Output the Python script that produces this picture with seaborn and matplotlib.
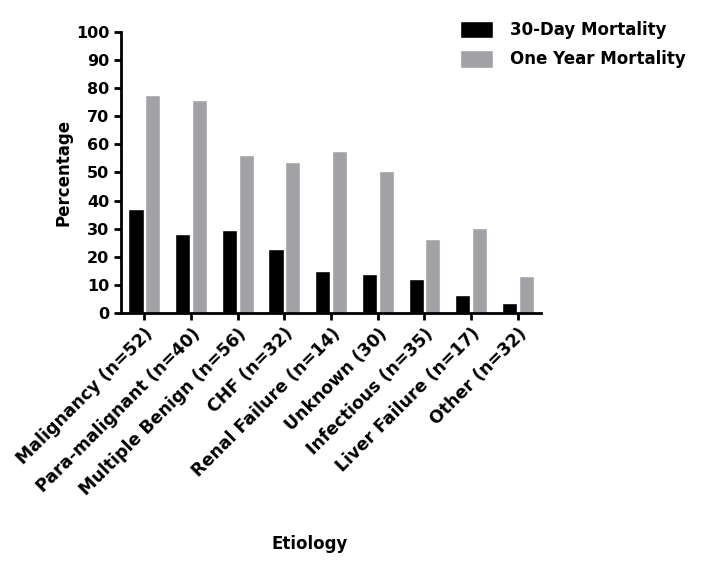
import pandas as pd
import matplotlib
matplotlib.use("Agg")
import matplotlib.pyplot as plt
import seaborn as sns

categories = ["Malignancy (n=52)", "Para-malignant (n=40)", "Multiple Benign (n=56)",
              "CHF (n=32)", "Renal Failure (n=14)", "Unknown (30)",
              "Infectious (n=35)", "Liver Failure (n=17)", "Other (n=32)"]
mort_30day = [37.1, 28.1, 29.4, 22.7, 14.9, 13.9, 12.0, 6.4, 3.7]
mort_1year = [77.6, 75.8, 56.1, 53.9, 57.8, 50.6, 26.4, 30.1, 13.2]
series = ["30-Day Mortality", "One Year Mortality"]

df = pd.DataFrame({
    "Etiology": categories * 2,
    "Percentage": mort_30day + mort_1year,
    "Series": [series[0]] * len(categories) + [series[1]] * len(categories),
})

sns.set_style("ticks")
plt.rcParams["font.family"] = ["DejaVu Sans"]
plt.rcParams["font.weight"] = "bold"
plt.rcParams["text.color"] = "black"
plt.rcParams["axes.labelcolor"] = "black"
plt.rcParams["xtick.color"] = "black"
plt.rcParams["ytick.color"] = "black"

fig = plt.figure(figsize=(7.14, 5.67), dpi=100)
ax = fig.add_axes([0.1695, 0.448, 0.5885, 0.4956])

sns.barplot(data=df, x="Etiology", y="Percentage", hue="Series",
            palette=["#000000", "#a2a2a6"], width=0.72, gap=0.1,
            saturation=1, ax=ax)

ax.set_xlim(-0.5, 8.5)
ax.set_ylim(0, 100)
ax.set_yticks(range(0, 101, 10))
sns.despine(ax=ax)
for s in ["left", "bottom"]:
    ax.spines[s].set_linewidth(2)
    ax.spines[s].set_color("black")
ax.tick_params(axis="both", width=2, length=5, labelsize=11.5)
ax.set_xticks(range(len(categories)))
ax.set_xticklabels(categories, rotation=45, ha="right", rotation_mode="anchor",
                   fontweight="bold", fontsize=12.5)
for t in ax.get_yticklabels():
    t.set_fontweight("bold")

ax.set_ylabel("Percentage", fontsize=12, fontweight="bold")
ax.yaxis.set_label_coords(-0.115, 0.5)
ax.set_xlabel("Etiology", fontsize=12, fontweight="bold")
ax.xaxis.set_label_coords(0.45, -0.79)

ax.legend(loc="upper left", bbox_to_anchor=(0.786, 1.07), frameon=False,
          borderpad=0, handlelength=2.0, handleheight=1.25, labelspacing=0.65,
          handletextpad=1.0, prop={"weight": "bold", "size": 12})

fig.savefig("out.png", dpi=100)
